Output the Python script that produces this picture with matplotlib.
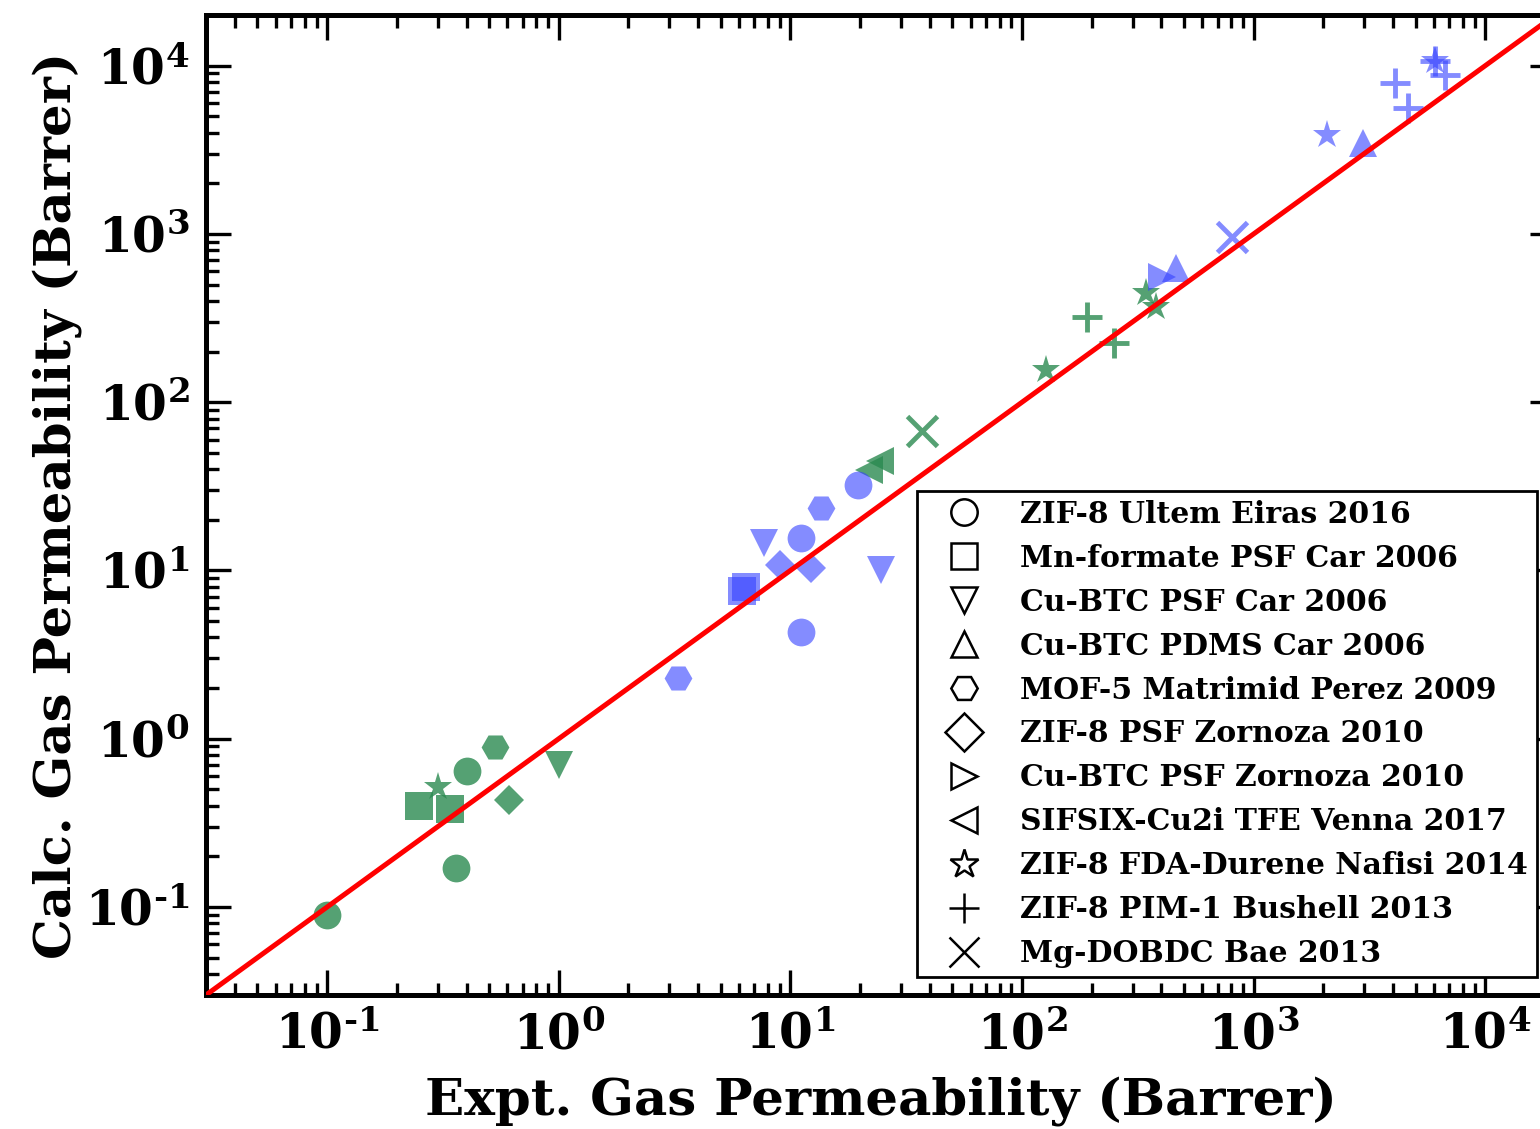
import matplotlib
matplotlib.use("Agg")
import matplotlib.pyplot as plt
from matplotlib.lines import Line2D
from matplotlib.ticker import LogLocator, FuncFormatter, NullFormatter
import numpy as np

plt.rcParams['font.family'] = 'DejaVu Serif'
plt.rcParams['font.weight'] = 'bold'
plt.rcParams['mathtext.fontset'] = 'dejavuserif'

# ---- data ----
legend_labels = ["ZIF-8 Ultem Eiras 2016", "Mn-formate PSF Car 2006", "Cu-BTC PSF Car 2006",
                 "Cu-BTC PDMS Car 2006", "MOF-5 Matrimid Perez 2009", "ZIF-8 PSF Zornoza 2010",
                 "Cu-BTC PSF Zornoza 2010", "SIFSIX-Cu2i TFE Venna 2017", "ZIF-8 FDA-Durene Nafisi 2014",
                 "ZIF-8 PIM-1 Bushell 2013", "Mg-DOBDC Bae 2013"]
legend_markers = ['o', 's', 'v', '^', 'H', 'D', '>', '<', '*', '+', 'x']

green_x = [0.10, 0.40, 0.36, 0.53, 0.25, 0.34, 0.30, 0.61, 1.0, 21.9, 24.3, 37.0, 190, 250, 127, 342, 378]
green_y = [0.09, 0.64, 0.17, 0.89, 0.40, 0.38, 0.52, 0.43, 0.70, 39.6, 45.0, 67.0, 322, 225, 156, 447, 369]
green_m = ['o', 'o', 'o', 'H', 's', 's', '*', 'D', 'v', '<', '<', 'x', '+', '+', '*', '*', '*']

blue_x = [3.26, 13.6, 6.46, 6.2, 11.1, 11.1, 19.5, 7.73, 24.7, 8.98, 12.3, 401, 461, 803, 2066, 6090, 2980, 4090, 4660, 6720, 6090]
blue_y = [2.30, 23.6, 7.98, 7.6, 4.3, 15.6, 32.3, 14.6, 10.1, 10.8, 10.4, 557, 630, 962, 3890, 10600, 3480, 7920, 5620, 8830, 10600]
blue_m = ['H', 'H', 's', 's', 'o', 'o', 'o', 'v', 'v', 'D', 'D', '>', '^', 'x', '*', '*', '^', '+', '+', '+', '+']

lims = [0.03, 2e4]

fig = plt.figure(figsize=(15.4, 11.29), dpi=100)
W, H = 1540, 1129
ax = fig.add_axes([206 / W, 1 - 995 / H, (1555 - 206) / W, (995 - 15) / H])
ax.set_xscale('log')
ax.set_yscale('log')
ax.set_xlim(lims)
ax.set_ylim(lims)

line_markers = {'+', 'x'}
def draw(xs, ys, ms, color, alpha):
    for x, y, m in zip(xs, ys, ms):
        if m in line_markers:
            ax.plot([x], [y], marker=m, color=color, alpha=alpha, ls='none',
                    markersize=22, mew=3.5)
        else:
            size = 20 if m not in ('*', 'D') else (21 if m == '*' else 15)
            ax.plot([x], [y], marker=m, color=color, alpha=alpha, ls='none',
                    markersize=size, mew=0)

draw(green_x, green_y, green_m, '#2a8a50', 0.8)
draw(blue_x, blue_y, blue_m, '#3340ff', 0.6)

ax.plot(lims, lims, color='red', lw=3.6, zorder=5)

# ticks
for a in (ax.xaxis, ax.yaxis):
    a.set_major_locator(LogLocator(base=10, numticks=20))
    a.set_minor_locator(LogLocator(base=10, subs=np.arange(2, 10), numticks=50))
    a.set_minor_formatter(NullFormatter())

def fmt_func(v, p):
    e = int(round(np.log10(v)))
    if e < 0:
        return r'$\mathbf{10^{\text{-}%d}}$' % (-e)
    return r'$\mathbf{10^{%d}}$' % e

fmt = FuncFormatter(fmt_func)
ax.xaxis.set_major_formatter(fmt)
ax.yaxis.set_major_formatter(fmt)
ax.tick_params(which='both', direction='in', top=True, right=True, width=2.4)
ax.tick_params(which='major', length=18, labelsize=35, pad=12)
ax.tick_params(which='minor', length=9)
for s in ax.spines.values():
    s.set_linewidth(3.6)

ax.set_xlabel('Expt. Gas Permeability (Barrer)', fontsize=37, fontweight='bold', labelpad=12)
ax.set_ylabel('Calc. Gas Permeability (Barrer)', fontsize=37, fontweight='bold', labelpad=2)

handles = [Line2D([], [], marker=m, color='k', mfc='none', ls='none',
                  markersize=(19 if m not in ('+', 'x', '*') else 21), mew=1.8)
           for m in legend_markers]
leg = ax.legend(handles, legend_labels, loc='lower right', fontsize=21.5,
                frameon=True, fancybox=False, edgecolor='k', framealpha=1,
                labelspacing=0.5, handlelength=2.5, handletextpad=0.65,
                borderpad=0.3, borderaxespad=0.6)
leg.get_frame().set_linewidth(2)
for t in leg.get_texts():
    t.set_fontweight('bold')

fig.savefig('out.png', dpi=100)
